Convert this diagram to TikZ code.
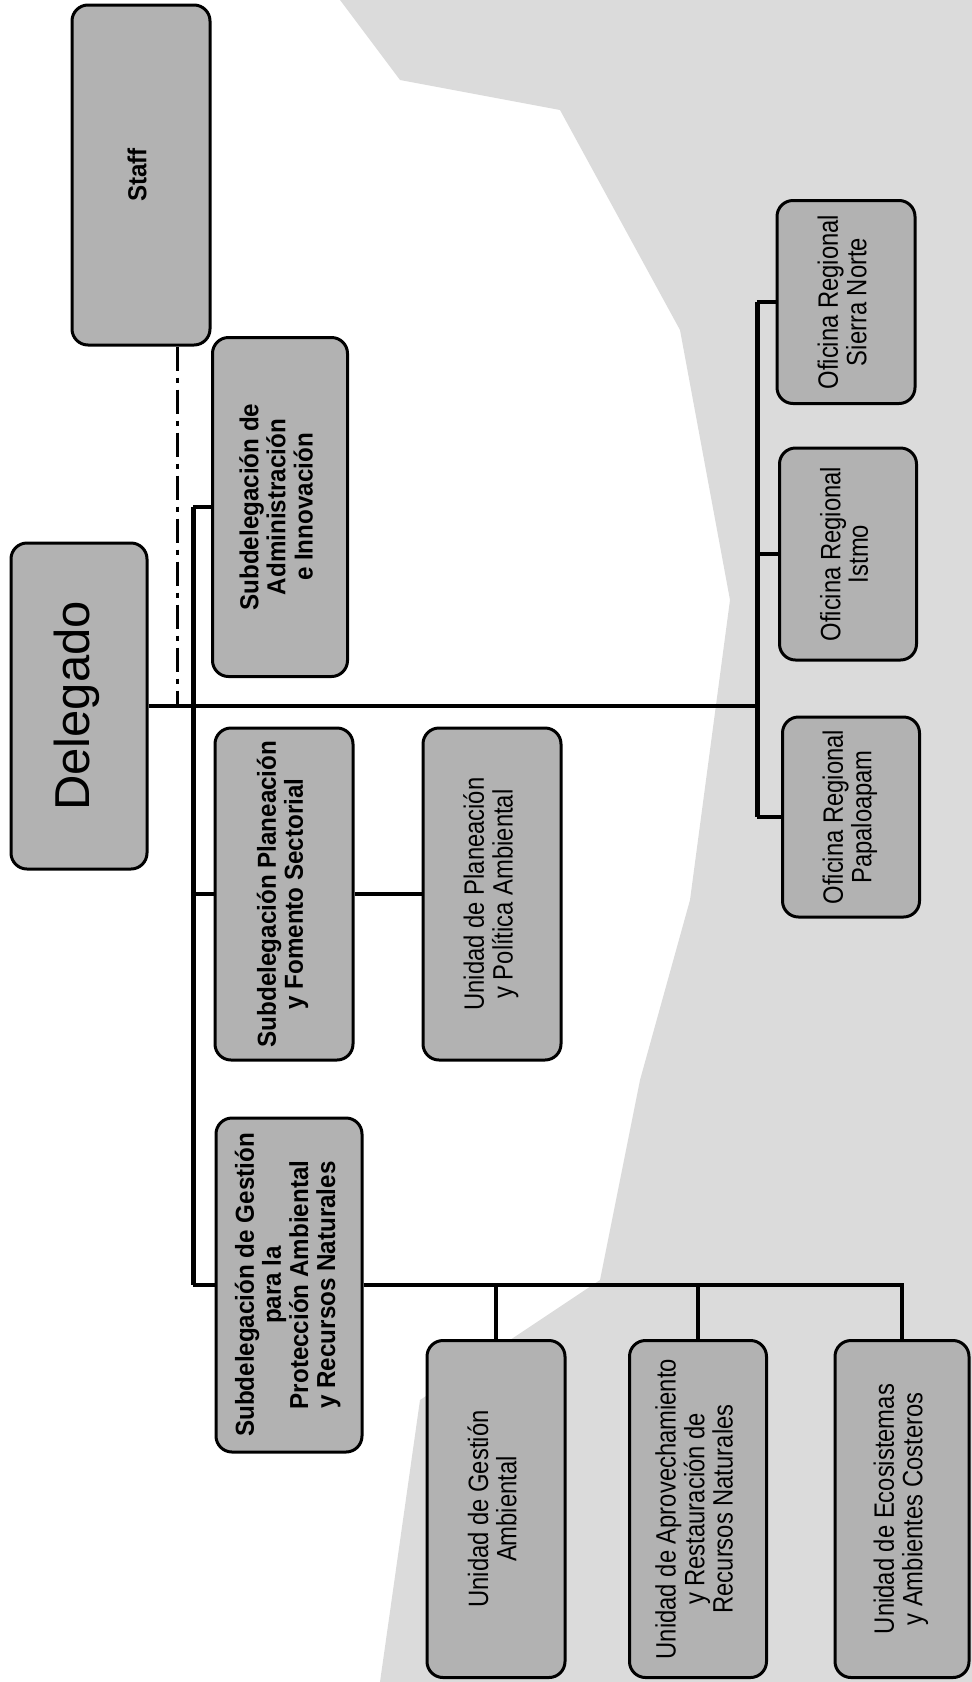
\documentclass[tikz,border=0pt]{standalone}
\usepackage{fontspec}
\usepackage{graphicx}
\setmainfont{Liberation Sans}
\newfontfamily\unitfont{Liberation Sans}[FakeStretch=0.85]
\newfontfamily\subfont{Liberation Sans}[FakeStretch=0.93]
\usetikzlibrary{positioning}

\definecolor{boxgray}{gray}{0.70}
\definecolor{scangray}{gray}{0.86}
\newcommand{\vlabel}[1]{\rotatebox{90}{\begin{tabular}{@{}c@{}}#1\end{tabular}}}

\tikzset{
  unit/.style={draw, line width=3pt, rounded corners=16pt, fill=boxgray,
    inner sep=0pt, font=\unitfont\fontsize{28}{27}\selectfont},
  subunit/.style={unit, font=\subfont\bfseries\fontsize{26}{27}\selectfont},
  link/.style={line width=3.6pt},
  bus/.style={line width=5pt},
  staffline/.style={line width=3pt, dash pattern=on 24pt off 7pt on 5pt off 7pt}
}

\begin{document}
\begin{tikzpicture}[x=1pt, y=-1pt]
    \useasboundingbox (0,0) rectangle (972,1682);
    % scanned background
    \fill[scangray] (340,0) -- (972,0) -- (972,1682) -- (380,1682) -- (420,1400)
        -- (600,1280) -- (640,1080) -- (690,900) -- (730,600) -- (680,330)
        -- (560,110) -- (400,80) -- cycle;

    \node[subunit, minimum width=138, minimum height=340] (staff) at (141,175) {\vlabel{Staff}};
    \node[unit, minimum width=136, minimum height=326, font=\fontsize{49}{49}\selectfont] (delegado) at (79,706) {\vlabel{Delegado}};

    \node[subunit, minimum width=135, minimum height=339] (subadm) at (280,507) {\vlabel{Subdelegación de\\Administración\\e Innovación}};
    \node[subunit, minimum width=138, minimum height=332] (subplan) at (284,894) {\vlabel{Subdelegación Planeación\\y Fomento Sectorial}};
    \node[unit, minimum width=138, minimum height=332, right=67pt of subplan] (uplan) {\vlabel{Unidad de Planeación\\y Política Ambiental}};
    \node[subunit, minimum width=146, minimum height=334] (subges) at (289,1285) {\vlabel{Subdelegación de Gestión\\para la\\Protección Ambiental\\y Recursos Naturales}};

    \node[unit, minimum width=138, minimum height=337] (uga) at (496,1509) {\vlabel{Unidad de Gestión\\Ambiental}};
    \node[unit, minimum width=137, minimum height=337] (uar) at (698,1509) {\vlabel{Unidad de Aprovechamiento\\y Restauración de\\Recursos Naturales}};
    \node[unit, minimum width=134, minimum height=337] (ueac) at (902,1509) {\vlabel{Unidad de Ecosistemas\\y Ambientes Costeros}};

    \node[unit, minimum width=138, minimum height=203] (sierra) at (846,302) {\vlabel{Oficina Regional\\Sierra Norte}};
    \node[unit, minimum width=137, minimum height=212] (istmo) at (848,554) {\vlabel{Oficina Regional\\Istmo}};
    \node[unit, minimum width=137, minimum height=200] (papa) at (851,817) {\vlabel{Oficina Regional\\Papaloapam}};

    \coordinate (busL) at (193,706);
    \coordinate (busR) at (757,706);
    \coordinate (stafflink) at (177,706);

    % staff
    \draw[staffline] (staff.south -| stafflink) -- (stafflink);
    % main line
    \draw[link] (delegado.east) -- (busR);
    % subdelegaciones
    \draw[bus] (subadm.west -| busL) -- (subges.west -| busL);
    \draw[link] (subadm.west -| busL) -- (subadm.west);
    \draw[link] (subplan.west -| busL) -- (subplan.west);
    \draw[link] (subges.west -| busL) -- (subges.west);
    \draw[link] (subplan.east) -- (uplan.west);
    % unidades
    \draw[link] (subges.east) -- (ueac.north |- subges.east) -- (ueac.north);
    \draw[link] (uga.north |- subges.east) -- (uga.north);
    \draw[link] (uar.north |- subges.east) -- (uar.north);
    % oficinas regionales
    \draw[bus] (sierra.west -| busR) -- (papa.west -| busR);
    \draw[link] (sierra.west -| busR) -- (sierra.west);
    \draw[link] (istmo.west -| busR) -- (istmo.west);
    \draw[link] (papa.west -| busR) -- (papa.west);
\end{tikzpicture}
\end{document}
